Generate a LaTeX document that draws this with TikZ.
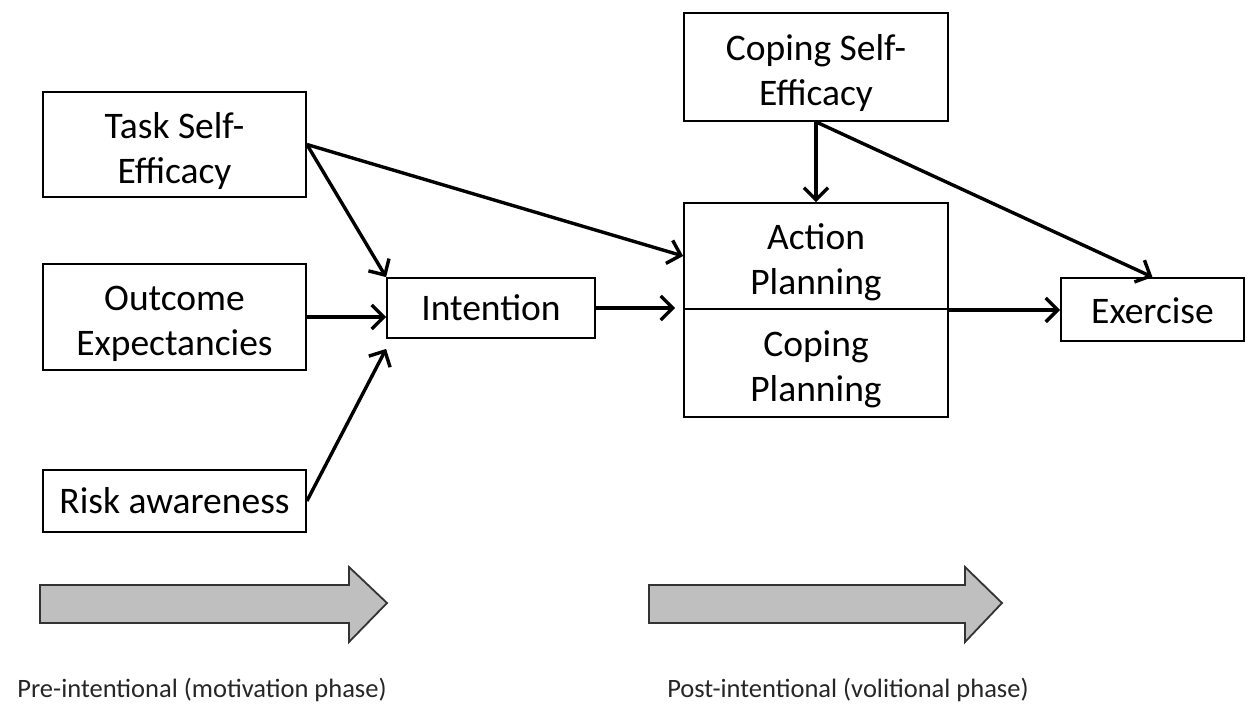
\documentclass[tikz,border=0pt]{standalone}
\usepackage{fontspec}
\setmainfont{Carlito}
\usetikzlibrary{arrows.meta,calc}
\newcommand{\tstrut}{\rule{0pt}{39pt}}
\begin{document}
\begin{tikzpicture}[x=1pt,y=-1pt,
  box/.style={draw=black,line width=1.8pt,inner sep=0pt,align=center,font=\fontsize{37.5}{45}\selectfont},
  conn/.style={draw=black,line width=3.4pt,-{Straight Barb[length=12pt,width=24pt,line width=3.4pt]}},
  phasearrow/.style={draw=black!80,line width=1.8pt,fill=black!25},
  phaselabel/.style={anchor=base,font=\fontsize{26.5}{30}\selectfont,text=black!85}]
\useasboundingbox (0,0) rectangle (1248,704);
\node[box,minimum width=263pt,minimum height=105pt] (tse) at (174.5,144.5) {\tstrut Task Self-\\Efficacy};
\node[box,minimum width=263pt,minimum height=106pt] (oe) at (174.5,317) {\tstrut Outcome\\Expectancies};
\node[box,minimum width=263pt,minimum height=62pt] (ra) at (174.5,501) {Risk awareness};
\node[box,minimum width=208pt,minimum height=60pt] (int) at (491,308) {Intention};
\node[box,minimum width=264pt,minimum height=108pt] (cse) at (816,67) {\tstrut Coping Self-\\Efficacy};
\node[box,minimum width=264pt,minimum height=106pt] (ap) at (816,256) {\tstrut Action\\Planning};
\node[box,minimum width=264pt,minimum height=108pt] (cp) at (816,363) {\tstrut Coping\\Planning};
\node[box,minimum width=183pt,minimum height=63pt] (ex) at (1152.5,309.5) {\rule{0pt}{29pt}Exercise};
\coordinate (below) at ($(int.south west)+(0,10)$);
\coordinate (div) at (ap.south east);
\draw[conn] (tse.east) -- (int.north west);
\draw[conn] (tse.east) -- (ap.west);
\draw[conn] (oe.east) -- (oe.east -| int.west);
\draw[conn] (ra.east) -- (below);
\draw[conn,shorten >=8pt] (int.east) -- (int.east -| ap.west);
\draw[conn] (cse.south) -- (ap.north);
\draw[conn] (cse.south) -- (ex.north);
\draw[conn] (div) -- (div -| ex.west);
\draw[phasearrow] (40,585) -- (349,585) -- (349,567) -- (387,603) -- (349,642) -- (349,623) -- (40,623) -- cycle;
\draw[phasearrow] (649,585) -- (965,585) -- (965,567) -- (1002,603) -- (965,642) -- (965,623) -- (649,623) -- cycle;
\node[phaselabel] (pre) at (202,697) {Pre-intentional (motivation phase)};
\node[phaselabel] (post) at (848,697) {Post-intentional (volitional phase)};
\end{tikzpicture}
\end{document}
